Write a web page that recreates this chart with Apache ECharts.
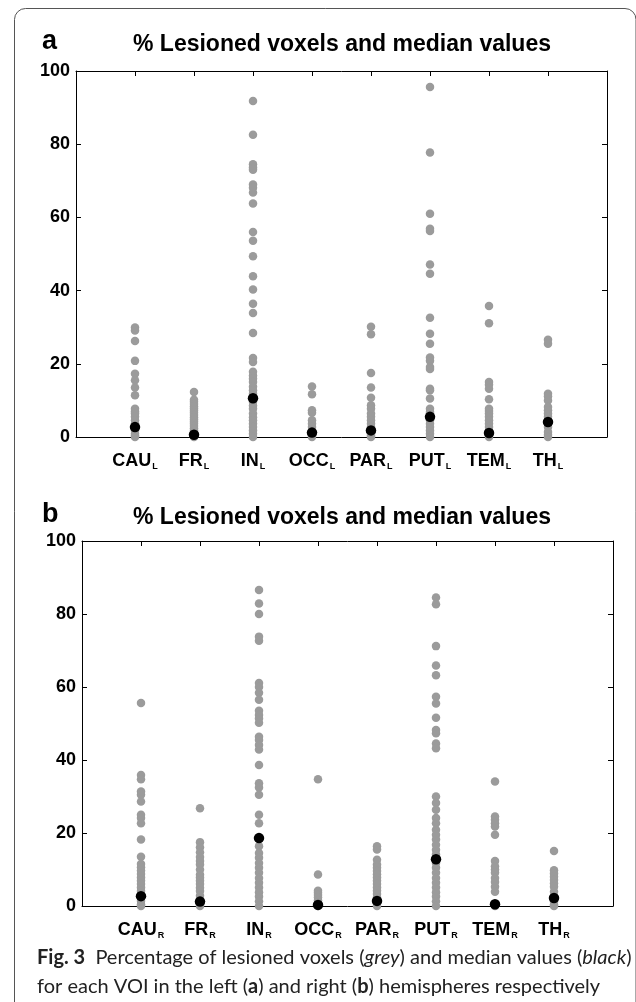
<!DOCTYPE html>
<html>
<head>
<meta charset="utf-8">
<script src="https://cdn.jsdelivr.net/npm/echarts@6/dist/echarts.min.js"></script>
<style>
  html, body { margin: 0; padding: 0; background: #fff; }
  #main { width: 636px; height: 1002px; }
</style>
</head>
<body>
<div id="main"></div>
<script>
  // VOI names (subscript added per hemisphere)
  const regions = ['CAU', 'FR', 'IN', 'OCC', 'PAR', 'PUT', 'TEM', 'TH']
  const yTicks = [0, 20, 40, 60, 80, 100]

  // left hemisphere (a): % lesioned voxels per subject
  const cauL = [29.9, 29.1, 26.2, 20.8, 17.3, 15.5, 13.5, 11.4, 7.7, 7.0, 6.4, 5.5, 4.6, 3.6, 1.8, 0.9, 0.4, 0]
  const frL = [12.3, 10.2, 9.6, 9.0, 8.4, 7.8, 7.2, 6.6, 6.0, 5.4, 4.8, 4.2, 3.6, 3.0, 2.4, 1.8, 1.2, 0.3, 0]
  const inL = [91.8, 82.6, 74.5, 73.6, 73.0, 69.0, 68.1, 66.8, 63.8, 56.0, 53.6, 49.4, 43.9, 40.3, 36.4, 33.9, 28.4, 21.6, 20.5, 17.8, 16.8, 15.9, 15.0, 13.7, 12.8, 11.8, 9.6, 8.6, 7.7, 6.4, 5.4, 4.6, 3.6, 2.7, 1.8, 0.9, 0]
  const occL = [13.8, 11.7, 7.3, 6.6, 4.6, 3.6, 2.7, 1.8, 0.5, 0]
  const parL = [30.1, 28.1, 17.5, 13.5, 10.7, 8.7, 7.7, 6.4, 5.5, 4.6, 3.6, 2.7, 0.9, 0.4, 0]
  const putL = [95.6, 77.7, 61.0, 56.9, 56.3, 47.1, 44.6, 32.6, 28.2, 25.5, 21.7, 20.8, 19.1, 18.6, 13.2, 12.8, 10.5, 7.7, 6.8, 4.6, 3.6, 2.7, 1.8, 0.9, 0]
  const temL = [35.8, 31.1, 15.0, 14.3, 13.2, 10.3, 7.7, 7.1, 6.4, 5.5, 4.6, 3.6, 2.7, 1.8, 0.5, 0]
  const thL = [26.6, 25.5, 11.8, 11.1, 10.0, 8.2, 7.3, 6.4, 5.5, 2.7, 1.4, 0.6, 0]
  const medianL = [2.7, 0.6, 10.6, 1.2, 1.8, 5.5, 1.1, 4.1]

  // right hemisphere (b)
  const cauR = [55.6, 35.9, 34.7, 31.4, 30.5, 28.6, 25.0, 24.1, 22.7, 18.2, 13.5, 11.5, 10.6, 9.7, 8.8, 7.8, 6.9, 6.0, 5.1, 4.1, 1.4, 0.5, 0]
  const frR = [26.8, 17.5, 16.1, 14.7, 13.4, 12.3, 11.4, 10.0, 8.6, 7.8, 6.9, 6.0, 5.0, 4.1, 2.8, 2.0, 0.5, 0]
  const inR = [86.6, 82.9, 80.0, 73.8, 72.7, 61.1, 60.0, 58.4, 56.5, 53.5, 52.3, 51.4, 50.2, 46.4, 45.5, 44.1, 42.9, 38.6, 33.6, 32.5, 30.5, 25.0, 22.7, 16.4, 14.5, 13.2, 11.8, 10.5, 9.1, 7.7, 6.4, 5.1, 3.8, 2.6, 1.3, 0]
  const occR = [34.7, 8.6, 4.2, 3.6, 3.0, 2.4, 1.6, 0.8, 0]
  const parR = [16.4, 15.5, 12.7, 11.4, 10.5, 9.6, 8.7, 7.8, 6.9, 6.0, 5.1, 4.2, 3.3, 2.4, 0.6, 0]
  const putR = [84.5, 82.7, 71.2, 65.9, 63.2, 57.3, 55.5, 51.6, 48.2, 47.3, 44.5, 43.2, 30.0, 28.2, 26.4, 24.1, 22.7, 20.9, 19.5, 18.2, 16.8, 15.4, 14.1, 11.8, 10.5, 9.1, 7.7, 6.4, 5.1, 3.8, 2.6, 1.3, 0]
  const temR = [34.1, 24.5, 23.6, 22.7, 21.8, 19.5, 12.3, 10.9, 10.0, 9.1, 7.7, 6.6, 5.3, 3.9, 0]
  const thR = [15.1, 9.8, 8.9, 8.0, 7.1, 6.2, 5.3, 3.9, 1.2, 0.4, 0]
  const medianR = [2.7, 1.2, 18.6, 0.3, 1.4, 12.8, 0.5, 2.2]

  const valuesL = [cauL, frL, inL, occL, parL, putL, temL, thL]
  const valuesR = [cauR, frR, inR, occR, parR, putR, temR, thR]

  const GREY = '#9b9b9b'
  const FONT = '"Liberation Sans", Arial, sans-serif'
  const CAPFONT = 'Lato, "Noto Sans", sans-serif'

  const toPoints = (lists) => {
    const pts = []
    lists.forEach((arr, i) => {
      arr.forEach((v) => pts.push([i + 1, v]))
    })
    return pts
  }

  const axisLine = { show: true, onZero: false, lineStyle: { color: '#000', width: 1 } }
  const tick = { show: true, inside: true, length: 5, lineStyle: { color: '#000' } }

  const makeAxes = (gridIndex, side) => {
    const xAxis = [
      {
        gridIndex,
        type: 'value',
        min: 0,
        max: 9,
        interval: 1,
        position: 'bottom',
        axisLine,
        axisTick: { show: false },
        splitLine: { show: false },
        axisLabel: {
          margin: 14,
          formatter: (v) =>
            v >= 1 && v <= 8 ? `{m|${regions[v - 1]}}{s|${side}}` : '',
          rich: {
            m: { fontFamily: FONT, fontWeight: 'bold', fontSize: 18, color: '#000', lineHeight: 20 },
            s: { fontFamily: FONT, fontWeight: 'bold', fontSize: 9, color: '#000', lineHeight: 20, verticalAlign: 'bottom', padding: [0, 0, 0, 1] },
          },
        },
      },
      {
        gridIndex,
        type: 'value',
        min: 0,
        max: 9,
        interval: 1,
        position: 'top',
        axisLine,
        axisTick: tick,
        splitLine: { show: false },
        axisLabel: { show: false },
      },
    ]
    const yAxis = [
      {
        gridIndex,
        type: 'value',
        min: 0,
        max: 100,
        interval: 20,
        position: 'left',
        axisLine,
        axisTick: tick,
        splitLine: { show: false },
        axisLabel: {
          margin: 6,
          fontFamily: FONT,
          fontWeight: 'bold',
          fontSize: 18,
          color: '#000',
          formatter: (v) => (yTicks.includes(v) ? String(v) : ''),
        },
      },
      {
        gridIndex,
        type: 'value',
        min: 0,
        max: 100,
        interval: 20,
        position: 'right',
        axisLine,
        axisTick: tick,
        splitLine: { show: false },
        axisLabel: { show: false },
      },
    ]
    return { xAxis, yAxis }
  }

  const axA = makeAxes(0, 'L')
  const axB = makeAxes(1, 'R')

  const panelText = (letter, y) => [
    {
      type: 'text',
      left: 42,
      top: y - 17,
      style: { text: letter, font: `bold 27px ${FONT}`, fill: '#000' },
    },
    {
      type: 'text',
      x: 342,
      y: y,
      style: {
        text: '% Lesioned voxels and median values',
        font: `bold 23px ${FONT}`,
        fill: '#000',
        textAlign: 'center',
        textVerticalAlign: 'middle',
      },
    },
  ]

  const option = {
    animation: false,
    backgroundColor: '#fff',
    grid: [
      { left: 76, top: 71, width: 531, height: 366 },
      { left: 82, top: 541, width: 531, height: 365 },
    ],
    xAxis: [...axA.xAxis, ...axB.xAxis],
    yAxis: [...axA.yAxis, ...axB.yAxis],
    series: [
      {
        type: 'scatter',
        xAxisIndex: 0,
        yAxisIndex: 0,
        symbolSize: 8.5,
        itemStyle: { color: GREY, opacity: 1 },
        data: toPoints(valuesL),
      },
      {
        type: 'scatter',
        xAxisIndex: 0,
        yAxisIndex: 0,
        symbolSize: 10.5,
        z: 3,
        itemStyle: { color: '#000', opacity: 1 },
        data: medianL.map((v, i) => [i + 1, v]),
      },
      {
        type: 'scatter',
        xAxisIndex: 2,
        yAxisIndex: 2,
        symbolSize: 8.5,
        itemStyle: { color: GREY, opacity: 1 },
        data: toPoints(valuesR),
      },
      {
        type: 'scatter',
        xAxisIndex: 2,
        yAxisIndex: 2,
        symbolSize: 10.5,
        z: 3,
        itemStyle: { color: '#000', opacity: 1 },
        data: medianR.map((v, i) => [i + 1, v]),
      },
    ],
    graphic: [
      {
        // frame around the figure, open at the bottom
        type: 'rect',
        shape: { x: 14.5, y: 8.5, width: 621.5, height: 1040, r: 11 },
        style: { fill: 'none', stroke: '#555', lineWidth: 1 },
        silent: true,
      },
      ...panelText('a', 45),
      ...panelText('b', 518),
      {
        type: 'text',
        left: 37,
        top: 943,
        style: {
          text:
            '{b|Fig. 3}  Percentage of lesioned voxels ({i|grey}) and median values ({i|black})\n' +
            'for each VOI in the left ({b|a}) and right ({b|b}) hemispheres respectively',
          font: `20px ${CAPFONT}`,
          fill: '#222',
          lineHeight: 29,
          rich: {
            b: { fontFamily: CAPFONT, fontWeight: 'bold', fontSize: 20, fill: '#222', lineHeight: 29 },
            i: { fontFamily: CAPFONT, fontStyle: 'italic', fontSize: 20, fill: '#222', lineHeight: 29 },
          },
        },
      },
    ],
  }

  const chart = echarts.init(document.getElementById('main'))
  chart.setOption(option)
</script>
</body>
</html>
